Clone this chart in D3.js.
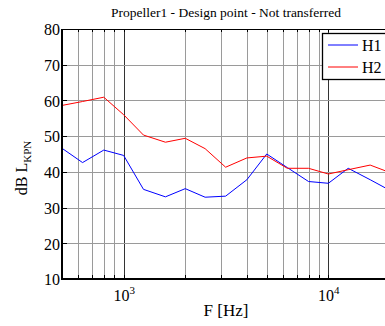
<!DOCTYPE html>
<html>
<head>
<meta charset="utf-8">
<script src="https://cdn.jsdelivr.net/npm/d3@7/dist/d3.min.js"></script>
<style>
body { margin: 0; background: #fff; }
.grid line { stroke: #9a9a9a; stroke-width: 1; shape-rendering: crispEdges; }
.grid line.major { stroke: #333; }
.axis path { display: none; }
.axis line { stroke: #000; shape-rendering: crispEdges; }
.axis text { fill: #000; }
</style>
</head>
<body>
<svg id="chart" width="385" height="326"></svg>
<script>
// third-octave band centres (Hz)
var freqs = [500, 630, 800, 1000, 1250, 1600, 2000, 2500, 3150, 4000, 5000, 6300, 8000, 10000, 12500, 16000, 20000];
var h1 = [46.6, 42.6, 46.1, 44.6, 35.1, 33.0, 35.3, 32.9, 33.2, 37.8, 45.0, 41.2, 37.3, 36.8, 41.0, 37.8, 34.8];
var h2 = [58.6, 59.7, 60.9, 56.0, 50.3, 48.3, 49.4, 46.5, 41.3, 43.9, 44.4, 41.0, 41.0, 39.4, 40.6, 41.9, 39.8];
var seriesNames = ['H1', 'H2'];
var seriesColors = ['#0000ff', '#ff0000'];
var yTicks = [10, 20, 30, 40, 50, 60, 70, 80];
var xMajor = [1000, 10000];
var xMinor = [600, 700, 800, 900, 1000, 2000, 3000, 4000, 5000, 6000, 7000, 8000, 9000, 10000];

var FONT = '"Liberation Serif", "Times New Roman", Times, "DejaVu Serif", serif';

var margin = { top: 29, left: 62 };
var plotW = 328, plotH = 250;

var svg = d3.select('#chart').attr('font-family', FONT);

var x = d3.scaleLog().domain([500, 20000]).range([margin.left, margin.left + plotW]);
var y = d3.scaleLinear().domain([10, 80]).range([margin.top + plotH, margin.top]);

// grid
var grid = svg.append('g').classed('grid', true);
grid.selectAll('line.v')
	.data(xMinor)
	.enter()
	.append('line')
	.attr('class', function (d) { return xMajor.indexOf(d) >= 0 ? 'v major' : 'v'; })
	.attr('x1', function (d) { return Math.round(x(d)) + 0.5; })
	.attr('x2', function (d) { return Math.round(x(d)) + 0.5; })
	.attr('y1', y(80))
	.attr('y2', y(10));
grid.selectAll('line.h')
	.data(yTicks.slice(1, -1))
	.enter()
	.append('line')
	.classed('h', true)
	.attr('x1', x(500))
	.attr('x2', x(20000))
	.attr('y1', function (d) { return Math.round(y(d)) + 0.5; })
	.attr('y2', function (d) { return Math.round(y(d)) + 0.5; });

// data lines
var series = [h1, h2];
var line = d3.line()
	.x(function (d, i) { return x(freqs[i]); })
	.y(function (d) { return y(d); });

series.forEach(function (vals, k) {
	svg.append('path')
		.datum(vals)
		.attr('d', line)
		.attr('fill', 'none')
		.attr('stroke', seriesColors[k])
		.attr('stroke-width', 1);
});

// axes
var yAxis = d3.axisLeft(y)
	.tickValues(yTicks)
	.tickSize(-5)
	.tickPadding(2);
svg.append('g')
	.classed('axis', true)
	.attr('transform', 'translate(' + margin.left + ',0)')
	.call(yAxis)
	.attr('font-family', FONT)
	.selectAll('text')
	.style('font-size', '16px')
	.attr('dy', '0.36em');

var topAxis = d3.axisTop(x)
	.tickValues(xMinor)
	.tickFormat('')
	.tickSize(-3);
svg.append('g')
	.classed('axis', true)
	.attr('transform', 'translate(0,' + margin.top + ')')
	.call(topAxis);

var xAxis = d3.axisBottom(x)
	.tickValues(xMinor)
	.tickSize(-4)
	.tickFormat('');
var xg = svg.append('g')
	.classed('axis', true)
	.attr('transform', 'translate(0,' + (margin.top + plotH) + ')')
	.call(xAxis)
	.attr('font-family', FONT);

xg.selectAll('.tick')
	.filter(function (d) { return xMajor.indexOf(d) >= 0; })
	.append('text')
	.attr('y', 22)
	.attr('text-anchor', 'middle')
	.style('font-size', '16px')
	.each(function (d) {
		var t = d3.select(this);
		t.append('tspan').text('10');
		t.append('tspan')
			.attr('dy', '-0.6em')
			.style('font-size', '11px')
			.text(Math.round(Math.log10(d)));
	});

// box lines
svg.append('line')
	.attr('x1', x(500)).attr('x2', x(20000))
	.attr('y1', margin.top + 0.5).attr('y2', margin.top + 0.5)
	.attr('stroke', '#000').attr('stroke-width', 1);
svg.append('line')
	.attr('x1', margin.left).attr('x2', margin.left)
	.attr('y1', margin.top).attr('y2', margin.top + plotH + 1)
	.attr('stroke', '#000').attr('stroke-width', 2);
svg.append('line')
	.attr('x1', margin.left - 1).attr('x2', x(20000))
	.attr('y1', margin.top + plotH).attr('y2', margin.top + plotH)
	.attr('stroke', '#000').attr('stroke-width', 2);

// labels
svg.append('text')
	.attr('x', (x(500) + x(20000)) / 2)
	.attr('y', 17)
	.attr('text-anchor', 'middle')
	.style('font-size', '13.5px')
	.text('Propeller1 - Design point - Not transferred');

svg.append('text')
	.attr('x', (x(500) + x(20000)) / 2)
	.attr('y', 316)
	.attr('text-anchor', 'middle')
	.style('font-size', '17px')
	.text('F [Hz]');

var yl = svg.append('text')
	.attr('transform', 'translate(27,168) rotate(-90)')
	.attr('text-anchor', 'middle')
	.style('font-size', '16px');
yl.append('tspan').text('dB L');
yl.append('tspan')
	.attr('dy', '0.35em')
	.style('font-size', '11px')
	.text('KPN');

// legend
var legend = svg.append('g').attr('transform', 'translate(322,33)');
legend.append('rect')
	.attr('x', 0.5).attr('y', 0.5)
	.attr('width', 80).attr('height', 46)
	.attr('fill', '#fff')
	.attr('stroke', '#000')
	.attr('stroke-width', 1.3);
seriesNames.forEach(function (name, k) {
	var ly = 12 + k * 22;
	legend.append('line')
		.attr('x1', 6).attr('x2', 36)
		.attr('y1', ly).attr('y2', ly)
		.attr('stroke', seriesColors[k])
		.attr('stroke-width', 1);
	legend.append('text')
		.attr('x', 40)
		.attr('y', ly + 6)
		.style('font-size', '16px')
		.text(name);
});
</script>
</body>
</html>
